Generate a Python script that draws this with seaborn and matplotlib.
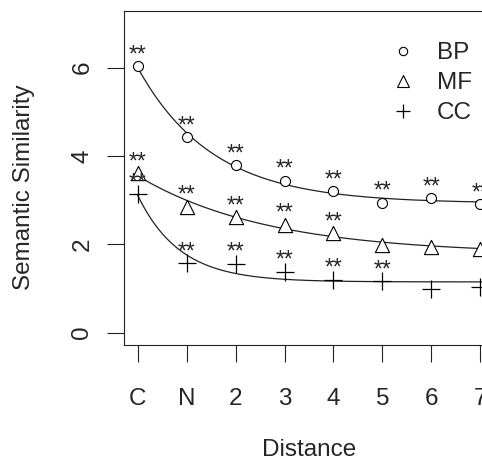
import numpy as np
import pandas as pd
import matplotlib
matplotlib.use("Agg")
import matplotlib.pyplot as plt
from matplotlib.lines import Line2D
import seaborn as sns

# ==============================
# DATA
# ==============================
distance_labels = ["C", "N", "2", "3", "4", "5", "6", "7"]
distance = np.arange(1, len(distance_labels) + 1)

bp = [6.03, 4.42, 3.79, 3.44, 3.20, 2.94, 3.04, 2.91]
mf = [3.61, 2.85, 2.62, 2.44, 2.25, 1.99, 1.93, 1.90]
cc = [3.14, 1.57, 1.56, 1.38, 1.20, 1.16, 0.99, 1.03]

# which points carry the "**" mark
bp_sig = [True, True, True, True, True, True, True, True]
mf_sig = [True, True, True, True, True, False, False, False]
cc_sig = [True, True, True, True, True, True, False, False]

series = [
    ("BP", bp, bp_sig, "o", 52),
    ("MF", mf, mf_sig, "^", 105),
    ("CC", cc, cc_sig, "+", 150),
]


def fit_exp(x, y):
    # y = a + b * exp(-k * (x - 1)), grid over k, least squares for a, b
    x = np.asarray(x, float)
    y = np.asarray(y, float)
    best = None
    for k in np.arange(0.05, 5.0, 0.005):
        A = np.column_stack([np.ones_like(x), np.exp(-k * (x - 1))])
        coef, *_ = np.linalg.lstsq(A, y, rcond=None)
        sse = np.sum((A @ coef - y) ** 2)
        if best is None or sse < best[0]:
            best = (sse, coef[0], coef[1], k)
    return best[1:]


# ==============================
# PLOT
# ==============================
sns.set_style("white")
plt.rcParams["font.family"] = ["Liberation Sans", "DejaVu Sans"]
FS = 17.5

fig = plt.figure(figsize=(4.82, 4.62), dpi=100)
ax = fig.add_axes([124 / 482, 1 - 345 / 462, 370 / 482, 334 / 462])

xs = np.linspace(1, 8.3, 300)
for name, vals, sig, mk, size in series:
    a, b, k = fit_exp(distance, vals)
    curve = pd.DataFrame({"x": xs, "y": a + b * np.exp(-k * (xs - 1))})
    sns.lineplot(data=curve, x="x", y="y", ax=ax, color="#222222", lw=0.9)

    df = pd.DataFrame({"x": distance, "y": vals})
    if mk == "+":
        sns.scatterplot(data=df, x="x", y="y", ax=ax, marker=mk, s=size,
                        color="black", linewidth=0.9, zorder=3)
    else:
        sns.scatterplot(data=df, x="x", y="y", ax=ax, marker=mk, s=size,
                        facecolor="white", edgecolor="black", linewidth=0.8, zorder=3)

    for xi, yi, s in zip(distance, vals, sig):
        if s:
            ax.annotate("**", (xi, yi), xytext=(0, 3.5), textcoords="offset points",
                        ha="center", va="baseline", fontsize=FS - 1,
                        annotation_clip=False)

ax.set_xlim(0.72, 8.28)
ax.set_ylim(-0.28, 7.28)
ax.set_xticks(distance)
ax.set_xticklabels(distance_labels)
ax.set_yticks([0, 2, 4, 6])
ax.tick_params(axis="both", direction="out", length=12, width=0.8, labelsize=FS,
               color="#222222", bottom=True, left=True)
ax.tick_params(axis="x", pad=19)
ax.tick_params(axis="y", pad=10)
for lab in ax.get_yticklabels():
    lab.set_rotation(90)
    lab.set_va("center")

for sp in ax.spines.values():
    sp.set_color("#222222")
    sp.set_linewidth(0.8)

ax.set_xlabel("Distance", fontsize=FS, va="center")
ax.set_ylabel("Semantic Similarity", fontsize=FS, va="center")
ax.xaxis.set_label_coords(0.5, -(450 - 345) / 334)
ax.yaxis.set_label_coords((24 - 124) / 370, (345 - 187) / 334)

handles = [
    Line2D([], [], ls="none", marker="o", mfc="white", mec="black", ms=6, mew=0.8),
    Line2D([], [], ls="none", marker="^", mfc="white", mec="black", ms=8, mew=0.8),
    Line2D([], [], ls="none", marker="+", color="black", ms=10, mew=0.9),
]
ax.legend(handles, ["BP", "MF", "CC"], loc="upper left", frameon=False,
          bbox_to_anchor=(391 / 482, 1 - 42 / 462), bbox_transform=fig.transFigure,
          borderpad=0, borderaxespad=0, handlelength=1.0, handletextpad=0.9,
          labelspacing=0.33, fontsize=FS)

fig.savefig("out.png", dpi=100)
plt.close(fig)
